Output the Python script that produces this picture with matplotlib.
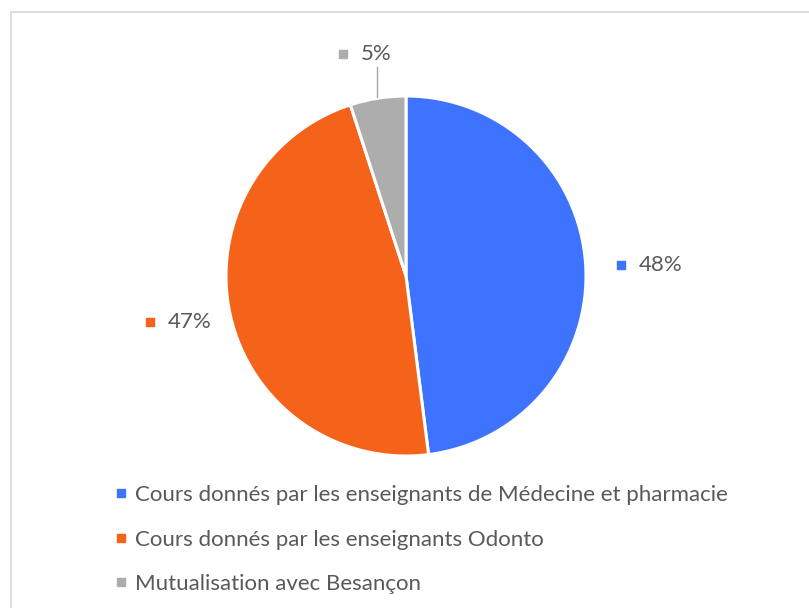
import matplotlib
matplotlib.use("Agg")
import matplotlib.pyplot as plt
from matplotlib.patches import Rectangle
from matplotlib.lines import Line2D

# data
categories = ["Cours donnés par les enseignants de Médecine et pharmacie",
              "Cours donnés par les enseignants Odonto",
              "Mutualisation avec Besançon"]
shares = [48, 47, 5]
pct_labels = ["48%", "47%", "5%"]
colors = ["#3D73FF", "#F5621A", "#ADADAD"]

plt.rcParams["font.family"] = ["Lato", "DejaVu Sans"]
TEXT = "#595959"

W, H = 809, 608
fig = plt.figure(figsize=(W / 100, H / 100), dpi=100)
ax = fig.add_axes([0, 0, 1, 1])

# chart frame (only left/top visible in the crop)
ax.add_patch(Rectangle((11, -20), 820, H - 12 + 20, fill=False,
                       edgecolor="#D9D9D9", linewidth=1.3))

cx, cy, r = 406, H - 276, 180
wedges, _ = ax.pie(shares, colors=colors, startangle=90, counterclock=False,
                   center=(cx, cy), radius=r, frame=True,
                   wedgeprops=dict(edgecolor="white", linewidth=2.2))
ax.set_xlim(0, W)
ax.set_ylim(0, H)
ax.set_aspect("equal")
ax.axis("off")

# data labels: marker square + percentage
label_pos = [(621, H - 265), (150, H - 322), (343, H - 54)]
for (x, y), txt, col in zip(label_pos, pct_labels, colors):
    ax.scatter([x], [y], marker="s", s=32, color=col, zorder=5)
    ax.text(x + 18, y, txt, fontsize=16, color=TEXT, va="center", ha="left")

# leader line for the small slice
ax.plot([377, 377], [H - 67, H - 97], color="#A6A6A6", linewidth=1.0)

handles = [Line2D([0], [0], marker="s", linestyle="none", markersize=6,
                  markerfacecolor=c, markeredgecolor=c) for c in colors]
fig.legend(handles, categories, loc="upper left",
           bbox_to_anchor=(103 / W, 1 - 474 / H), frameon=False,
           fontsize=16, labelcolor=TEXT, handlelength=0.6, handletextpad=0.35,
           labelspacing=1.1, borderpad=0)

fig.savefig("out.png", dpi=100)
